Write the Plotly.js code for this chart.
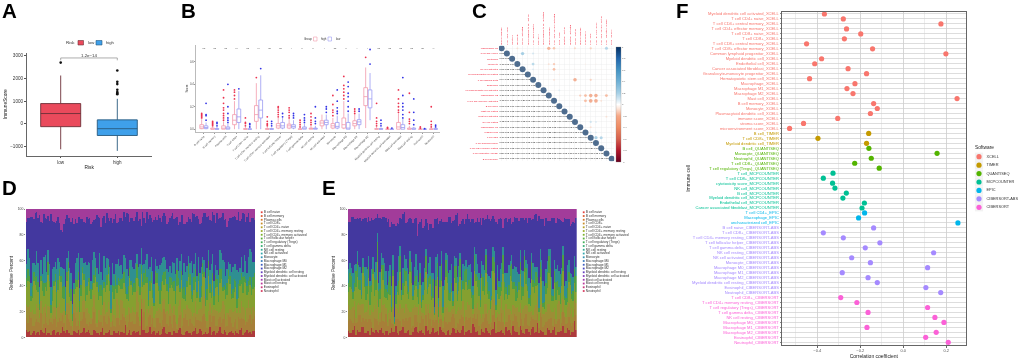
<!DOCTYPE html>
<html><head><meta charset="utf-8">
<script src="https://cdn.plot.ly/plotly-3.0.1.min.js"></script>
<style>html,body{margin:0;padding:0;background:#fff}#g{width:1024px;height:359px;filter:blur(0.4px)}</style>
</head><body><div id="g"></div>
<script>
// Panel A
const riskGroups=['low','high'];
const riskQ1=[-130,-520], riskMedian=[450,-220], riskQ3=[890,170], riskLow=[-1130,-1200], riskHigh=[2130,1100];
const riskOutliers=[[2700],[1300,1350,1400,1500,1750,1850,2350]];
const riskP='1.2e\u221214';
// Panel B
const cellTypes=['B cell naive','B cell memory','Plasma cells','T cell CD8+','T cell CD4+ naive','T cell CD4+ memory resting','T cell CD4+ memory activated','T cell follicular helper','T cell regulatory (Tregs)','T cell gamma delta','NK cell resting','NK cell activated','Monocyte','Macrophage M0','Macrophage M1','Macrophage M2','Myeloid dendritic cell resting','Myeloid dendritic cell activated','Mast cell activated','Mast cell resting','Eosinophil','Neutrophil'];
const pLabels=['ns','ns','ns','***','ns','***','ns','ns','*','**','**','*','ns','**','*','*','ns','ns','ns','ns','ns','**'];
const highQ1=[.005,0,0,.04,0,.07,0,.01,.01,0,0,.03,.01,.01,.03,.21,0,0,0,0,0,0];
const highMed=[.02,0,.005,.08,0,.13,0,.03,.03,0,.005,.055,.03,.04,.05,.29,0,0,.02,0,0,0];
const highQ3=[.04,.01,.03,.13,.005,.21,.005,.05,.045,.003,.01,.075,.05,.1,.075,.37,.005,0,.06,.01,0,.002];
const highLo=[0,0,0,0,0,0,0,0,0,0,0,0,0,0,0,.01,0,0,0,0,0,0];
const highHi=[.09,.02,.07,.25,.02,.41,.02,.1,.09,.01,.03,.13,.1,.25,.13,.55,.02,.005,.14,.03,.002,.01];
const highOut=[[.1,.11,.12,.13,.14],[.03,.04,.05,.06,.07],[.08,.1,.12,.14,.17,.19,.23,.28,.35],[.27,.3,.33,.35],[.03,.05,.06,.1],[.46],[.03,.04,.05,.07,.11],[.11,.13,.15,.17,.19,.2],[.1,.12,.15,.17,.19],[.02,.04,.06,.08],[.04,.06,.08,.11,.14],[],[.12,.15,.17,.22,.3],[.27,.3,.33,.36,.39,.47],[.14,.16,.18],[.64],[.03,.05,.07,.1,.23],[.01,.015],[.15,.17,.2,.23,.27,.35],[.05,.07,.09,.15,.32],[.01,.02],[.02,.04,.07,.2]];
const lowQ1=[.005,0,0,.06,0,.1,0,.01,.01,0,0,.04,.01,0,.04,.19,0,0,0,0,0,0];
const lowMed=[.015,0,.005,.11,0,.17,0,.03,.025,0,.005,.06,.025,.01,.065,.27,0,0,.015,0,0,0];
const lowQ3=[.03,.005,.02,.18,.003,.26,.005,.06,.04,.02,.01,.08,.06,.06,.085,.35,.005,0,.04,.01,0,.005];
const lowLo=[0,0,0,0,0,0,0,0,0,0,0,0,0,0,0,.08,0,0,0,0,0,0];
const lowHi=[.06,.02,.05,.34,.01,.48,.015,.1,.08,.05,.03,.13,.12,.14,.14,.5,.015,.003,.09,.02,.002,.01];
const lowOut=[[.08,.12,.13,.23],[.03,.05,.06],[.06,.08,.1,.14,.2,.4],[.36],[.02,.04,.05],[.54],[.03,.05,.07],[.11,.14],[.1,.12,.14],[.06,.08,.1,.13],[.05,.07,.1,.2],[.15,.18,.2],[.14,.16,.19,.25,.35],[.16,.2,.25,.29,.32,.38,.42],[.16,.18],[.58,.71],[.03,.05,.08],[.01],[.1,.13,.17,.2,.23,.3,.46],[.04,.08,.15,.27],[.005],[.02,.035]];
// Panel C
const corrLabels=['Macrophage M0','T cell CD4 naive','Neutrophil','Monocyte','NK cell activated','Myeloid dendritic cell resting','T cell gamma delta','Eosinophil','Myeloid dendritic cell activated','Macrophage M2','T cell CD4 memory activated','B cell naive','Mast cell resting','Mast cell activated','NK cell resting','Macrophage M1','Plasma cells','T cell CD8','T cell follicular helper','T cell CD4 memory resting','T cell regulatory (Tregs)','B cell memory'];
const corrUpper=[
[3,2,-10,3,2,4,2,1,-30,-18,3,2,2,-12,3,2,-14,2,3,25,2],
[2,3,32,3,12,1,2,3,4,2,1,3,2,1,3,2,2,1,2,1],
[4,3,2,3,1,2,-3,2,1,3,2,-4,2,1,3,2,2,1,3],
[3,2,22,2,3,-10,-16,2,3,1,3,2,-5,2,-4,3,2,1],
[2,10,2,3,-6,-20,3,2,1,-3,2,1,2,3,-4,1,2],
[3,2,1,2,3,-6,2,3,1,2,3,2,-3,1,2,1],
[2,1,-3,-10,2,3,1,-35,2,1,-14,2,1,-4,2],
[2,1,3,2,1,3,2,1,3,2,2,1,3,2],
[3,2,10,1,2,3,2,1,2,1,3,2,1],
[4,3,2,3,-4,-15,-22,-35,-35,-3,-22,2],
[3,2,1,3,2,-22,-38,-38,-10,2,1],
[2,3,1,3,8,3,2,1,2,3],
[2,3,1,2,3,2,1,-3,2],
[3,2,1,2,3,1,-10,2],
[2,3,14,10,2,1,2],
[2,-10,-3,1,2,3],
[10,9,3,2,1],
[30,25,3,2],
[4,3,2],
[3,2],
[3]];
const corrScale=[[0,'#67001F'],[.1,'#B2182B'],[.2,'#D6604D'],[.3,'#EE8A62'],[.4,'#F7A886'],[.46,'#FCE2D4'],[.5,'#FFFFFF'],[.54,'#D9EAF4'],[.6,'#A6D0E6'],[.7,'#6FB1D6'],[.8,'#4393C3'],[.9,'#2166AC'],[1,'#053061']];
// Panels D, E
const legendColors=['#E2413F','#D9592F','#D2752A','#C98E2A','#B7A22A','#9BAE2B','#7CB32E','#58B13A','#3FAF56','#35AE75','#33AC95','#32A7AD','#3394B5','#3A7BBB','#3F5FC0','#4747BF','#6440BE','#853DBB','#A23BAF','#BC3A9B','#CB3A7F','#D63C60'];
const bandNames=['B cell naive','Plasma cells','T cell CD8+','T cell CD4+ memory resting','T cell follicular helper','NK cell activated','Macrophage M2','Mast cell resting'];
const bandColors=['#AD3A3C','#A67F38','#9C8E36','#85A030','#4E9E44','#2F8F92','#43389F','#A23C9A'];
const dA=[6,5,3,2,4,6,3,2,3,5, 2,4,3,5,6,3,2,4,6,3, 7,4,3,2,5,3,4,2,3,6, 2,3,5,4,3,2,6,4,3,5, 23,6,3,8,4,2,5,3,7,3, 4,2,3,6,3,2,5,3,4,7, 3,5,2,3,8,4,2,5,3,6, 2,4,3,5,2,7,3,6,4,5];
const dB=[9,12,6,10,8,13,7,9,11,5, 14,8,10,6,12,9,4,11,7,10, 13,6,9,12,5,10,8,14,7,9, 11,5,10,8,13,6,12,9,7,10, 8,14,6,9,11,5,10,7,13,8, 12,6,9,10,4,13,8,11,6,9, 10,7,14,5,9,12,6,10,8,13, 7,11,5,9,12,8,10,6,13,9];
const dC=[10,8,12,6,11,9,13,5,10,7, 8,12,6,10,9,13,3,8,11,7, 9,13,6,10,12,8,5,11,9,7, 12,6,10,14,7,9,5,11,8,12, 6,10,13,5,9,11,8,12,7,10, 9,12,5,10,13,7,11,8,6,12, 8,10,13,6,9,7,12,5,11,8, 10,6,12,9,7,13,8,11,5,10];
const dD=[14,18,10,22,12,16,8,20,15,11, 19,13,24,9,17,6,4,14,21,12, 16,10,18,13,25,7,15,11,20,14, 10,22,16,8,19,13,23,9,17,12, 15,11,20,14,7,24,13,18,10,16, 12,21,9,17,26,8,14,19,11,15, 22,10,13,18,7,20,15,9,24,12, 14,19,11,16,6,13,21,10,17,14];
const dE=[7,5,9,6,8,4,10,7,5,9, 6,8,5,10,7,3,5,8,6,9, 4,7,10,5,8,6,9,4,7,8, 6,10,5,7,9,4,8,6,11,5, 7,9,5,8,6,10,4,7,9,6, 8,5,10,6,7,9,4,8,5,10, 6,8,4,9,7,5,10,6,8,4, 9,6,7,5,10,8,4,7,6,9];
const dF=[11,14,18,9,15,12,20,8,13,16, 10,17,7,14,11,19,8,12,15,21, 9,16,12,18,7,14,10,20,13,11, 17,8,15,10,13,19,6,16,12,9, 14,7,18,11,15,9,13,17,10,12, 8,16,13,6,14,19,11,9,17,13, 12,15,8,18,10,14,7,16,12,19, 11,9,17,13,8,12,16,10,21,12];
const dG=[33,31,36,40,35,30,32,41,34,38, 30,32,29,35,33,38,67,34,28,30, 32,38,35,30,30,43,35,31,33,36, 31,37,29,33,34,44,30,38,36,35, 18,36,33,40,38,33,42,35,31,36, 36,41,44,38,31,30,33,34,46,28, 29,35,33,44,38,32,30,46,29,35, 33,34,39,37,42,29,31,44,20,34];
const dH=[10,7,6,3,7,10,4,8,9,9, 11,6,16,12,5,7,7,8,6,8, 10,6,7,10,8,6,14,5,3,9, 11,4,10,6,2,3,10,7,6,9, 14,7,2,5,10,6,5,11,3,12, 7,3,7,13,5,12,10,8,3,6, 8,11,3,7,8,2,10,8,6,9, 14,7,6,6,2,8,4,6,10,7];
const d2A=[4,2,5,3,2,4,7,3,2,6, 3,2,8,4,3,2,5,3,2,4, 3,6,2,5,3,2,7,3,4,2, 5,3,2,4,9,3,2,5,3,2, 6,3,4,2,5,3,2,6,3,4, 2,5,3,7,2,4,3,2,5,3, 6,2,4,3,2,5,3,8,2,4, 3,5,2,3,6,2,4,3,2,5];
const d2B=[7,13,4,11,9,3,12,6,10,8, 5,13,9,3,11,7,14,6,4,10, 12,3,8,13,5,10,2,9,12,6, 4,11,8,14,3,9,10,5,13,7, 10,4,12,7,3,11,9,6,14,5, 8,12,3,10,7,13,5,9,4,11, 6,14,8,3,10,12,5,7,11,4, 13,6,9,3,8,12,5,10,7,11];
const d2C=[13,5,9,12,4,11,7,14,3,10, 6,12,2,9,13,5,8,11,3,14, 7,10,5,12,3,9,13,6,11,4, 8,14,5,10,2,12,7,9,13,4, 11,6,3,13,8,5,10,14,2,9, 12,7,4,11,6,3,13,8,10,5, 9,12,3,14,7,5,11,4,13,6, 2,10,8,12,5,9,3,14,7,4];
const d2D=[20,8,26,11,6,18,13,23,4,16, 9,21,12,5,25,14,7,19,10,22, 6,24,15,8,28,11,3,17,21,7, 13,5,26,10,18,4,22,15,8,20, 12,27,6,16,9,21,5,14,24,8, 18,11,28,6,15,7,23,10,19,13, 5,20,9,26,12,4,17,22,7,16, 25,8,14,4,21,10,27,6,13,18];
const d2E=[9,4,7,11,5,8,3,10,6,4, 12,5,8,3,7,10,4,6,9,5, 11,3,8,6,4,9,12,5,7,3, 10,6,4,8,5,12,3,7,9,6, 4,10,5,8,3,7,11,4,6,9, 5,8,12,3,7,4,9,6,10,5, 3,8,6,11,4,7,5,10,3,8, 6,4,9,7,5,12,3,8,6,10];
const d2F=[16,10,7,19,13,5,22,9,14,11, 18,6,15,23,8,12,4,17,10,7, 20,13,6,16,11,25,8,14,5,19, 9,15,12,3,21,8,16,11,6,18, 13,7,24,10,15,5,19,12,8,16, 4,14,9,20,11,17,6,23,10,13, 18,5,15,8,22,12,7,14,19,10, 6,16,11,21,9,4,13,17,24,8];
const d2G=[24,52,34,31,56,40,29,25,57,35, 38,30,28,63,26,40,46,27,54,30, 30,33,44,22,41,27,48,35,31,52, 43,31,38,42,30,48,33,36,26,35, 42,27,40,28,52,34,37,30,33,39, 44,33,30,29,46,36,28,29,40,48, 36,30,49,26,34,52,40,24,33,44, 30,41,35,38,37,44,28,32,24,32];
const d2H=[7,6,8,2,5,11,7,5,4,10, 9,11,18,9,7,10,12,11,6,8, 11,8,12,8,5,7,7,11,7,7, 8,10,7,9,6,4,7,9,2,8, 2,10,8,6,9,8,7,5,5,10, 5,8,6,10,5,11,6,10,4,6, 11,6,3,5,9,5,3,7,3,8, 9,7,5,8,9,3,9,3,6,8];
const eA=[5,3,9,6,4,8,3,5,7,3, 4,6,3,5,2,7,4,3,5,8, 3,6,2,7,4,5,3,9,6,4, 3,5,8,4,2,6,3,7,5,3, 9,4,6,3,8,5,2,4,7,3, 6,12,4,5,3,8,6,2,5,4, 9,3,6,4,7,3,11,5,4,2, 6,3,8,4,5,9,3,6,4,13];
const eB=[8,10,12,6,13,7,11,9,5,12, 9,6,10,13,7,4,2,11,8,6, 12,9,5,10,7,6,11,8,13,5, 9,12,7,3,10,6,13,8,5,11, 7,12,9,6,10,13,4,8,11,7, 5,10,12,7,9,4,11,6,13,8, 10,6,12,5,9,11,7,13,4,10, 8,12,6,9,3,11,7,10,5,9];
const eC=[12,9,7,13,8,11,6,14,9,10, 16,7,12,5,10,3,2,8,13,9, 11,6,13,8,10,14,5,9,7,12, 3,10,14,6,11,8,5,13,9,7, 12,5,10,14,7,9,12,6,8,11, 13,7,4,11,9,14,5,10,6,12, 8,13,7,11,5,9,14,6,10,8, 12,5,9,13,7,10,6,11,14,8];
const eD=[10,16,8,22,12,24,9,18,14,7, 30,11,20,8,15,6,2,13,25,10, 18,9,22,12,7,16,10,25,13,8, 2,20,11,6,24,9,14,19,7,26, 10,22,13,8,27,12,6,18,24,9, 5,21,14,9,28,8,11,26,13,7, 22,10,16,6,25,12,9,20,6,14, 24,8,19,11,13,22,9,16,7,12];
const eE=[7,10,6,12,8,5,11,9,6,14, 15,8,11,7,9,4,2,6,12,9, 8,5,10,7,6,9,4,12,7,3, 2,11,6,5,13,8,7,10,5,14, 6,10,7,4,12,8,5,11,14,6, 3,9,12,7,15,5,8,13,6,4, 10,7,12,5,14,8,6,11,3,9, 13,5,10,7,9,12,6,8,4,11];
const eF=[11,6,14,8,10,7,15,8,12,5, 7,13,6,14,9,16,4,10,8,12, 9,14,7,11,13,8,10,6,12,18, 5,7,11,16,6,13,15,8,12,5, 13,7,11,16,6,10,17,9,5,12, 20,8,10,14,6,11,15,7,12,16, 9,13,6,15,7,12,8,10,17,11, 6,14,8,12,16,7,13,9,15,10];
const eG=[37,40,36,26,38,30,38,31,40,41, 15,42,32,41,40,50,72,38,22,42, 28,43,33,37,24,32,42,23,26,38, 68,28,36,50,24,44,32,28,46,22, 35,32,36,41,19,36,47,37,23,44, 40,25,32,40,15,43,36,24,38,42, 25,41,32,47,26,41,36,22,48,40, 22,46,33,37,45,19,48,32,39,26];
const eH=[10,6,8,7,7,8,7,6,7,8, 4,7,6,7,8,10,12,11,7,4, 11,8,8,8,19,10,15,8,16,12, 8,7,10,10,10,6,11,9,3,12, 8,8,8,8,11,7,7,7,8,8, 8,8,12,7,15,7,8,12,6,7, 7,7,7,7,9,5,9,7,8,7, 9,7,7,7,9,10,8,8,12,11];
const e2A=[3,6,2,4,8,3,5,2,4,6, 3,7,2,5,3,4,9,2,6,3, 5,2,4,8,3,6,2,5,3,7, 4,2,6,3,5,2,8,3,4,6, 2,5,3,10,4,2,6,3,5,2, 7,3,4,6,2,5,3,9,4,2, 5,3,6,2,8,4,3,5,2,7, 3,6,2,4,5,3,7,2,4,6];
const e2B=[11,5,9,13,4,10,7,12,3,8, 6,13,9,4,11,7,5,12,3,10, 8,13,5,9,3,11,7,4,12,6, 10,3,8,13,5,9,12,4,7,11, 3,9,13,5,10,7,4,12,8,6, 11,3,9,13,5,7,10,4,12,6, 8,13,3,10,6,9,4,11,7,5, 12,3,8,10,6,13,4,9,7,11];
const e2C=[7,13,4,10,14,6,9,3,12,8, 5,11,14,3,7,12,9,5,13,6, 10,4,14,7,11,3,8,13,5,9, 12,6,3,11,14,7,4,10,13,5, 8,14,6,3,9,12,5,11,7,4, 13,9,5,14,3,10,7,12,6,11, 4,9,14,7,3,12,5,10,8,13, 6,11,4,14,9,3,12,7,5,10];
const e2D=[18,6,24,11,4,20,13,8,28,15, 9,22,5,17,12,26,3,14,7,21, 11,29,6,16,9,3,20,12,24,7, 14,5,27,10,18,8,3,22,13,6, 25,9,16,4,21,11,30,7,15,10, 23,6,12,3,19,8,26,13,5,17, 9,28,11,4,22,14,7,18,3,12, 26,8,15,5,20,10,4,23,12,8];
const e2E=[11,5,13,7,3,9,6,14,4,8, 12,3,9,6,15,5,7,11,4,13, 6,10,3,8,12,5,9,4,7,14, 5,8,13,3,10,6,4,12,7,9, 15,4,8,11,5,13,3,7,10,6, 12,4,9,7,14,3,8,5,11,6, 10,13,4,8,6,11,3,9,5,12, 7,4,14,6,9,3,11,5,8,13];
const e2F=[8,15,5,11,17,7,13,4,9,14, 6,10,16,5,8,12,7,19,4,11, 14,6,9,17,5,13,8,11,15,4, 18,7,10,5,12,16,9,6,13,8, 4,14,11,7,16,5,10,13,6,18, 8,12,5,15,7,17,4,10,14,6, 11,5,16,9,13,4,18,7,12,8, 15,6,10,13,5,8,17,4,11,7];
const e2G=[32,44,35,36,41,38,37,46,28,34, 48,26,34,49,30,25,47,25,55,34, 36,24,48,28,45,52,33,40,28,33, 30,59,25,45,26,38,60,31,32,46, 33,42,33,52,25,40,28,39,48,45, 25,53,48,34,42,40,32,37,36,40, 37,24,31,48,34,40,50,32,43,30, 22,55,36,40,37,53,35,37,43,38];
const e2H=[10,6,8,8,9,7,10,9,8,7, 7,8,6,10,14,12,13,12,8,2, 10,7,11,7,12,8,13,11,12,14, 8,12,8,10,10,6,10,4,14,9, 12,4,10,8,10,10,12,9,5,9, 6,10,8,8,8,10,7,10,7,9, 6,9,10,7,8,4,5,8,12,9, 9,7,11,8,9,7,8,13,10,7];
// Panel F
const softwareNames=['XCELL','TIMER','QUANTISEQ','MCPCOUNTER','EPIC','CIBERSORT-ABS','CIBERSORT'];
const softwareColors=['#F8766D','#C49A00','#53B400','#00C094','#00B6EB','#A58AFF','#FB61D7'];
const xcellCells=['Myeloid dendritic cell activated','T cell CD4+ naive','T cell CD4+ central memory','T cell CD4+ effector memory','T cell CD8+ naive','T cell CD8+','T cell CD8+ central memory','T cell CD8+ effector memory','Common lymphoid progenitor','Myeloid dendritic cell','Endothelial cell','Cancer associated fibroblast','Granulocyte-monocyte progenitor','Hematopoietic stem cell','Macrophage','Macrophage M1','Macrophage M2','Mast cell','B cell memory','Monocyte','Plasmacytoid dendritic cell','immune score','stroma score','microenvironment score'];
const xcellCorr=[-.367,-.279,.175,-.264,-.198,-.274,-.45,-.143,.198,-.38,-.412,-.257,-.171,-.436,-.225,-.262,-.234,.25,-.138,-.121,-.153,-.305,-.464,-.529];
const timerCells=['B cell','T cell CD8+','Myeloid dendritic cell'];
const timerCorr=[-.161,-.397,-.171];
const quantiseqCells=['B cell','Monocyte','Neutrophil','T cell CD8+','T cell regulatory (Tregs)'];
const quantiseqCorr=[-.16,.157,-.149,-.226,-.112];
const mcpCells=['T cell','T cell CD8+','cytotoxicity score','NK cell','B cell','Myeloid dendritic cell','Endothelial cell','Cancer associated fibroblast'];
const mcpCorr=[-.327,-.372,-.329,-.318,-.265,-.281,-.181,-.192];
const epicCells=['T cell CD4+','Macrophage','uncharacterized cell'];
const epicCorr=[-.18,-.208,.254];
const absCells=['B cell naive','T cell CD8+','T cell CD4+ memory resting','T cell follicular helper','T cell gamma delta','NK cell resting','NK cell activated','Monocyte','Macrophage M0','Macrophage M1','Macrophage M2','Myeloid dendritic cell resting','Eosinophil','Neutrophil'];
const absCorr=[-.138,-.372,-.279,-.109,-.177,.141,-.24,-.153,.113,-.284,-.164,-.121,.105,.174];
const cibCells=['T cell CD8+','T cell CD4+ memory resting','T cell regulatory (Tregs)','T cell gamma delta','NK cell resting','Macrophage M0','Macrophage M1','Macrophage M2','Eosinophil','Neutrophil'];
const cibCorr=[-.291,-.216,.113,-.164,.147,.189,-.169,.153,.104,.209];

const W=1024,H=359,FONT='"Liberation Sans",Arial,sans-serif';
const dx=(l,r)=>[l/W,r/W], dy=(t,b)=>[1-b/H,1-t/H];
const px=x=>x/W, py=y=>1-y/H;
const traces=[], layout={width:W,height:H,margin:{l:0,r:0,t:0,b:0},paper_bgcolor:'#fff',plot_bgcolor:'rgba(0,0,0,0)',font:{family:FONT,color:'#444'},showlegend:false,barmode:'stack',barnorm:'percent',bargap:0,boxmode:'overlay',annotations:[],shapes:[],hovermode:false};
function axes(n,xd,yd,xo,yo){const s=n===1?'':n;layout['xaxis'+s]=Object.assign({domain:xd,anchor:'y'+s,zeroline:false,showgrid:false},xo);layout['yaxis'+s]=Object.assign({domain:yd,anchor:'x'+s,zeroline:false,showgrid:false},yo);return {xaxis:'x'+s,yaxis:'y'+s};}
function note(x,y,text,size,opt){layout.annotations.push(Object.assign({xref:'paper',yref:'paper',x:px(x),y:py(y),text,showarrow:false,font:{size,color:'#333'},xanchor:'left',yanchor:'middle',borderpad:0},opt||{}));}
function rect(l,t,r,b,fill,line,w){layout.shapes.push({type:'rect',xref:'paper',yref:'paper',x0:px(l),x1:px(r),y0:py(b),y1:py(t),fillcolor:fill,line:{color:line,width:w}});}
[['A',1,11],['B',180,11],['C',471,11],['D',1,187],['E',321,187],['F',675,10]].forEach(p=>note(p[1],p[2],'<b>'+p[0]+'</b>',20.5,{font:{size:20.5,color:'#000',family:FONT}}));

// A
const a=axes(1,dx(26.5,152),dy(53,155.5),
 {range:[-.604,1.613],tickmode:'array',tickvals:[0,1],ticktext:riskGroups,ticks:'outside',ticklen:1.5,tickcolor:'#555',showline:true,linecolor:'#666',linewidth:1,tickfont:{size:4.6,color:'#333'},title:{text:'Risk',font:{size:4.8,color:'#222'},standoff:2}},
 {range:[-1404,3124],tickvals:[-1000,0,1000,2000,3000],ticks:'outside',ticklen:1.5,tickcolor:'#555',showline:true,linecolor:'#666',linewidth:1,tickfont:{size:4.6,color:'#333'},title:{text:'ImmuneScore',font:{size:4.8,color:'#222'},standoff:2}});
const riskFill=['#EA4A5C','#3FA0EA'],riskLine=['#6d3038','#28597e'];
riskGroups.forEach((g,i)=>{
 traces.push(Object.assign({type:'box',x:[i],q1:[riskQ1[i]],median:[riskMedian[i]],q3:[riskQ3[i]],lowerfence:[riskLow[i]],upperfence:[riskHigh[i]],width:.707,whiskerwidth:0,boxpoints:false,fillcolor:riskFill[i],line:{color:riskLine[i],width:.9}},a));
 traces.push(Object.assign({type:'scatter',mode:'markers',x:riskOutliers[i].map(()=>i),y:riskOutliers[i],marker:{size:2.6,color:'#111'}},a));
});
traces.push(Object.assign({type:'scatter',mode:'lines',x:[0,0,1,1],y:[2800,2905,2905,2800],line:{color:'#777',width:.6}},a));
traces.push(Object.assign({type:'scatter',mode:'text',x:[.5],y:[3010],text:[riskP],textfont:{size:4.4,color:'#333'},cliponaxis:false},a));
note(65,42.7,'Risk',4.4);note(87,42.7,'low',4.2);note(105,42.7,'high',4.2);
rect(78,40.5,83.5,45,'#EA4A5C','#6d3038',.6);rect(96,40.5,102,45,'#3FA0EA','#28597e',.6);

// B
const b=axes(2,dx(196,440),dy(45,132),
 {range:[-.72,21.6],tickmode:'array',tickvals:cellTypes.map((c,i)=>i),ticktext:cellTypes,tickangle:-45,ticks:'outside',ticklen:1,tickcolor:'#999',showline:true,linecolor:'#aaa',linewidth:.8,tickfont:{size:2.7,color:'#444'}},
 {range:[-.025,.75],tickvals:[0,.2,.4,.6],tickformat:'.1f',ticks:'outside',ticklen:1,tickcolor:'#999',showline:true,linecolor:'#aaa',linewidth:.8,tickfont:{size:2.7,color:'#444'},title:{text:'Score',font:{size:3,color:'#333'},standoff:1}});
const groupB=[{q1:highQ1,m:highMed,q3:highQ3,lo:highLo,hi:highHi,out:highOut,off:-.2,line:'#F29BAC',dot:'#EC3350'},{q1:lowQ1,m:lowMed,q3:lowQ3,lo:lowLo,hi:lowHi,out:lowOut,off:.2,line:'#9C9CF2',dot:'#3333E6'}];
groupB.forEach(g=>{
 const xs=cellTypes.map((c,i)=>i+g.off);
 traces.push(Object.assign({type:'box',x:xs,q1:g.q1,median:g.m,q3:g.q3,lowerfence:g.lo,upperfence:g.hi,width:.34,whiskerwidth:0,boxpoints:false,fillcolor:'rgba(255,255,255,0)',line:{color:g.line,width:.8}},b));
 const ox=[],oy=[];g.out.forEach((o,i)=>o.forEach(v=>{ox.push(i+g.off);oy.push(v)}));
 traces.push(Object.assign({type:'scatter',mode:'markers',x:ox,y:oy,marker:{size:1.8,color:g.dot}},b));
});
traces.push(Object.assign({type:'scatter',mode:'text',x:cellTypes.map((c,i)=>i),y:cellTypes.map(()=>.72),text:pLabels,textfont:{size:2.5,color:'#444'},cliponaxis:false},b));
note(303,39,'Group',2.8);note(320,39,'high',2.8);note(335,39,'low',2.8);
rect(313.5,37,317,41,'#fff','#F29BAC',.6);rect(328,37,331.5,41,'#fff','#9C9CF2',.6);

// C
const cx=axes(3,dx(499,614.3),dy(45.7,161.3),
 {type:'category',categoryorder:'array',categoryarray:corrLabels,side:'top',range:[-.5,21.5],tickangle:-90,tickmode:'array',tickvals:corrLabels,ticks:'',tickfont:{size:2.4,color:'#F01830'},showgrid:true,gridcolor:'#e6e6e6',gridwidth:.3},
 {type:'category',categoryorder:'array',categoryarray:corrLabels,range:[21.5,-.5],tickmode:'array',tickvals:corrLabels,ticks:'',tickfont:{size:2.4,color:'#F01830'},showgrid:true,gridcolor:'#e6e6e6',gridwidth:.3});
const cdX=[],cdY=[],cdV=[],ctX=[],ctY=[],ctT=[];
corrLabels.forEach((lab,r)=>{cdX.push(lab);cdY.push(lab);cdV.push(1);});
corrUpper.forEach((row,r)=>row.forEach((v,k)=>{const c=r+1+k;cdX.push(corrLabels[c]);cdY.push(corrLabels[r]);cdV.push(v/100);ctX.push(corrLabels[r]);ctY.push(corrLabels[c]);ctT.push((v/100).toFixed(2));}));
traces.push(Object.assign({type:'scatter',mode:'text',x:ctX,y:ctY,text:ctT,textfont:{size:2.2,color:'#222'}},cx));
traces.push(Object.assign({type:'scatter',mode:'markers',x:cdX,y:cdY,marker:{size:cdV.map(v=>6*Math.sqrt(Math.abs(v))),sizemode:'diameter',color:cdV,cmin:-1,cmax:1,colorscale:corrScale,line:{width:0},colorbar:{thickness:5,thicknessmode:'pixels',len:114.5,lenmode:'pixels',x:px(616),xanchor:'left',y:py(46.7),yanchor:'top',xpad:0,ypad:0,outlinewidth:.3,outlinecolor:'#888',tickvals:[-1,-.8,-.6,-.4,-.2,0,.2,.4,.6,.8,1],ticklen:0.8,tickwidth:.3,tickcolor:'#777',tickfont:{size:2.4,color:'#555'}}}},cx));

// D, E
function interleave(p,q){const o=[];p.forEach((v,i)=>{o.push(v);o.push(q[i]);});return o;}
function stacked(n,xd,series,legN,legX){
 const ax=axes(n,xd,dy(209,337.3),
  {range:[-.5,series[0].length-.5],showticklabels:false,ticks:''},
  {range:[0,100],tickvals:[0,20,40,60,80,100],ticksuffix:'%',ticks:'outside',ticklen:1,tickcolor:'#888',tickfont:{size:3.4,color:'#444'},title:{text:'Relative Percent',font:{size:4.7,color:'#222'},standoff:3}});
 const xs=series[0].map((v,i)=>i);
 series.forEach((s,i)=>traces.push(Object.assign({type:'bar',x:xs,y:s,name:bandNames[i],marker:{color:bandColors[i],line:{width:0}}},ax)));
 const lg=axes(legN,dx(legX,legX+60),dy(210.4,292.9),{range:[0,1],visible:false},{type:'category',categoryorder:'array',categoryarray:cellTypes,range:[21.5,-.5],visible:false});
 traces.push(Object.assign({type:'scatter',mode:'markers+text',x:cellTypes.map(()=>0),y:cellTypes,text:cellTypes,textposition:'middle right',textfont:{size:3.2,color:'#333'},cliponaxis:false,marker:{symbol:'square',size:1.8,color:legendColors}},lg));
}
stacked(4,dx(26,255),[[dA,d2A],[dB,d2B],[dC,d2C],[dD,d2D],[dE,d2E],[dF,d2F],[dG,d2G],[dH,d2H]].map(p=>interleave(p[0],p[1])),7,261.7);
stacked(5,dx(348,576.7),[[eA,e2A],[eB,e2B],[eC,e2C],[eD,e2D],[eE,e2E],[eF,e2F],[eG,e2G],[eH,e2H]].map(p=>interleave(p[0],p[1])),8,583.7);

// F
const softwareCells=[xcellCells,timerCells,quantiseqCells,mcpCells,epicCells,absCells,cibCells];
const softwareCorr=[xcellCorr,timerCorr,quantiseqCorr,mcpCorr,epicCorr,absCorr,cibCorr];
const fLabels=[],fText=[];
softwareCells.forEach((cells,i)=>cells.forEach(c=>{const l=c+'_'+softwareNames[i];fLabels.push(l);fText.push('<span style="color:'+softwareColors[i]+'">'+l+'</span>');}));
const f=axes(6,dx(781.7,966),dy(11.7,345),
 {range:[-.5656,.2916],tickvals:[-.4,-.2,0,.2],tickformat:'.1f',ticks:'outside',ticklen:1.5,tickcolor:'#666',showgrid:true,gridcolor:'#c4c4c4',gridwidth:.7,minor:{tick0:-.5,dtick:.2,showgrid:true,gridcolor:'#dcdcdc',gridwidth:.5,ticks:''},showline:true,mirror:true,linecolor:'#666',linewidth:1,tickfont:{size:4,color:'#555'},title:{text:'Correlation coefficient',font:{size:5,color:'#222'},standoff:2}},
 {type:'category',categoryorder:'array',categoryarray:fLabels,range:[66.54,-.46],tickmode:'array',tickvals:fLabels,ticktext:fText,ticks:'outside',ticklen:1,tickcolor:'#888',showgrid:true,gridcolor:'#cfcfcf',gridwidth:.7,showline:true,mirror:true,linecolor:'#666',linewidth:1,tickfont:{size:4.1},title:{text:'Immune cell',font:{size:5,color:'#222'},standoff:1}});
softwareCells.forEach((cells,i)=>traces.push(Object.assign({type:'scatter',mode:'markers',name:softwareNames[i],x:softwareCorr[i],y:cells.map(c=>c+'_'+softwareNames[i]),marker:{size:5.2,color:softwareColors[i]}},f)));
const lf=axes(9,dx(979,1024),dy(152.5,211.5),{range:[0,1],visible:false},{type:'category',categoryorder:'array',categoryarray:softwareNames,range:[6.5,-.5],visible:false});
traces.push(Object.assign({type:'scatter',mode:'markers',x:softwareNames.map(()=>0),y:softwareNames,marker:{symbol:'square',size:8.2,color:'#f2f2f2'},cliponaxis:false},lf));
traces.push(Object.assign({type:'scatter',mode:'markers+text',x:softwareNames.map(()=>0),y:softwareNames,text:softwareNames.map(s=>'   '+s),textposition:'middle right',textfont:{size:3.9,color:'#333'},cliponaxis:false,marker:{size:5.2,color:softwareColors}},lf));
note(974,147.7,'Software',4.8,{font:{size:4.8,color:'#222'}});

Plotly.newPlot('g',traces,layout,{displayModeBar:false,staticPlot:true});
</script></body></html>
